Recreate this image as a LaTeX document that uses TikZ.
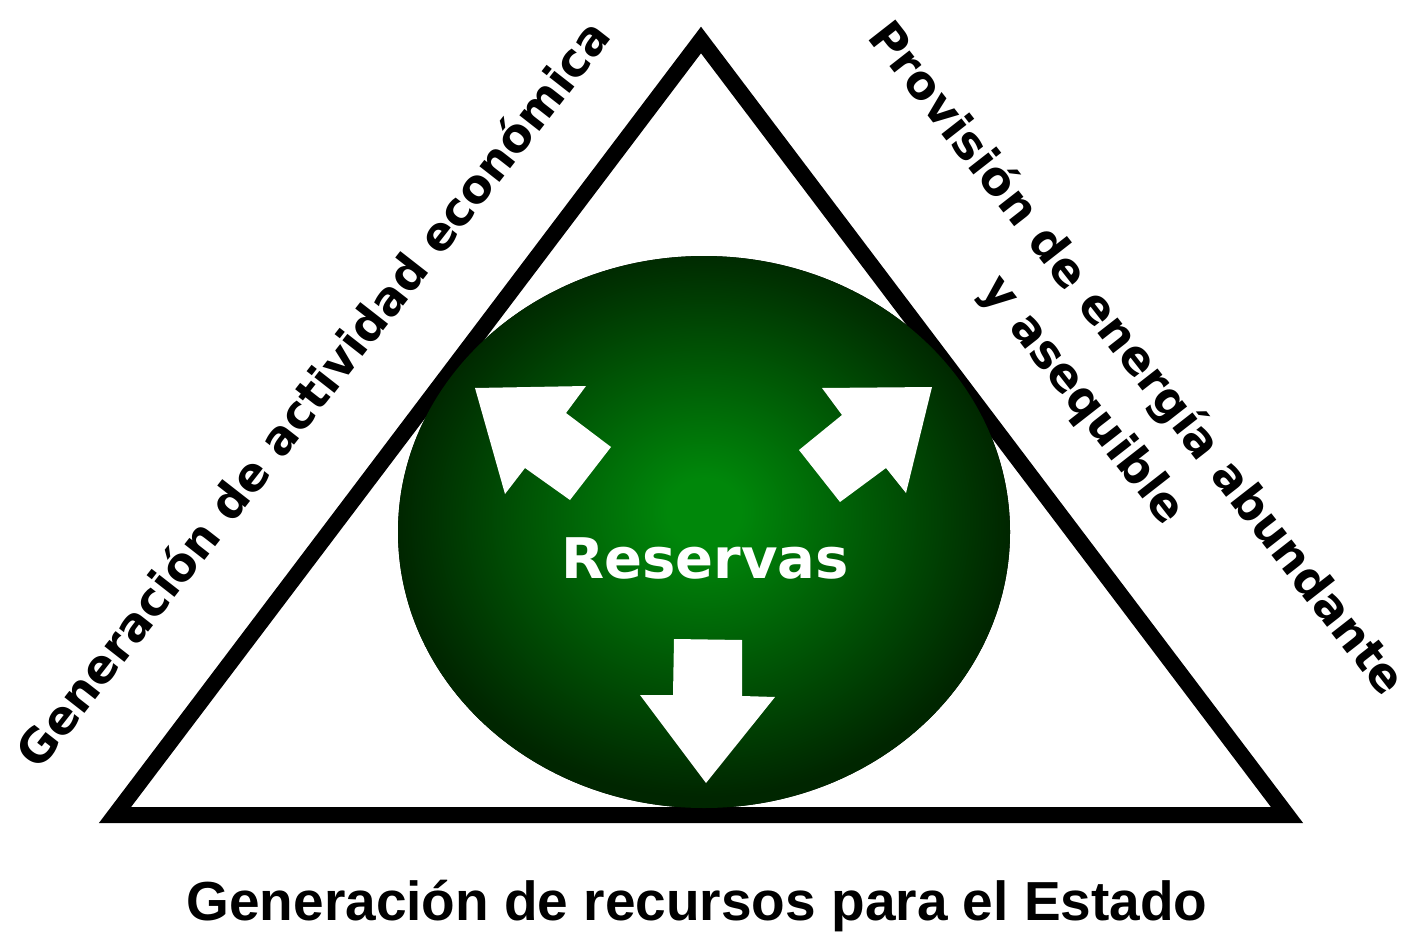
\documentclass[tikz,border=0pt]{standalone}
\usepackage{fontspec}
\newfontfamily\djv{DejaVu Sans}
\newfontfamily\lib{Liberation Sans}
\definecolor{gin}{RGB}{0,135,10}
\definecolor{gout}{RGB}{0,38,0}
\pgfdeclareradialshading{resshade}{\pgfpoint{0bp}{2bp}}{color(0bp)=(gin); color(3bp)=(gin); color(25bp)=(gout); color(50bp)=(gout)}
\tikzset{
  sidelbl/.style={inner sep=0pt, font=\djv\bfseries\fontsize{46.5}{67}\selectfont, align=center},
  baselbl/.style={inner sep=0pt, font=\lib\bfseries\fontsize{55}{60}\selectfont, anchor=base},
  reslbl/.style={inner sep=0pt, text=white, font=\djv\bfseries\fontsize{56}{60}\selectfont, anchor=base},
  blockarrow/.style={fill=white}
}
\begin{document}
\begin{tikzpicture}[x=1pt,y=-1pt]
\useasboundingbox (0,0) rectangle (1408,934);
\fill[white] (0,0) rectangle (1408,934);
% triangle
\draw[line width=16pt, line join=miter, miter limit=10] (701,40) -- (115,815) -- (1287,815) -- cycle;
% sphere
\fill[shading=resshade] (704,532) ellipse [x radius=306pt, y radius=276pt];
% arrows
\fill[blockarrow] (475,388) -- (586,386) -- (566,413) -- (611,447) -- (570,500) -- (525,468) -- (505,494) -- cycle;
\fill[blockarrow] (932,387) -- (906,493) -- (886,468) -- (840,502) -- (799,450) -- (842,415) -- (822,388) -- cycle;
\fill[blockarrow] (674,639) -- (742,640) -- (742,696) -- (775,697) -- (706,783) -- (640,695) -- (673,695) -- cycle;
% labels
\node[reslbl] (res) at (705,578) {Reservas};
\node[sidelbl, rotate=52] (left) at (312,393) {Generación de actividad económica};
\node[sidelbl, rotate=-52] (right) at (1109,380) {Provisión de energía abundante\\y asequible};
\node[baselbl] (bottom) at (697,920) {Generación de recursos para el Estado};
\end{tikzpicture}
\end{document}
